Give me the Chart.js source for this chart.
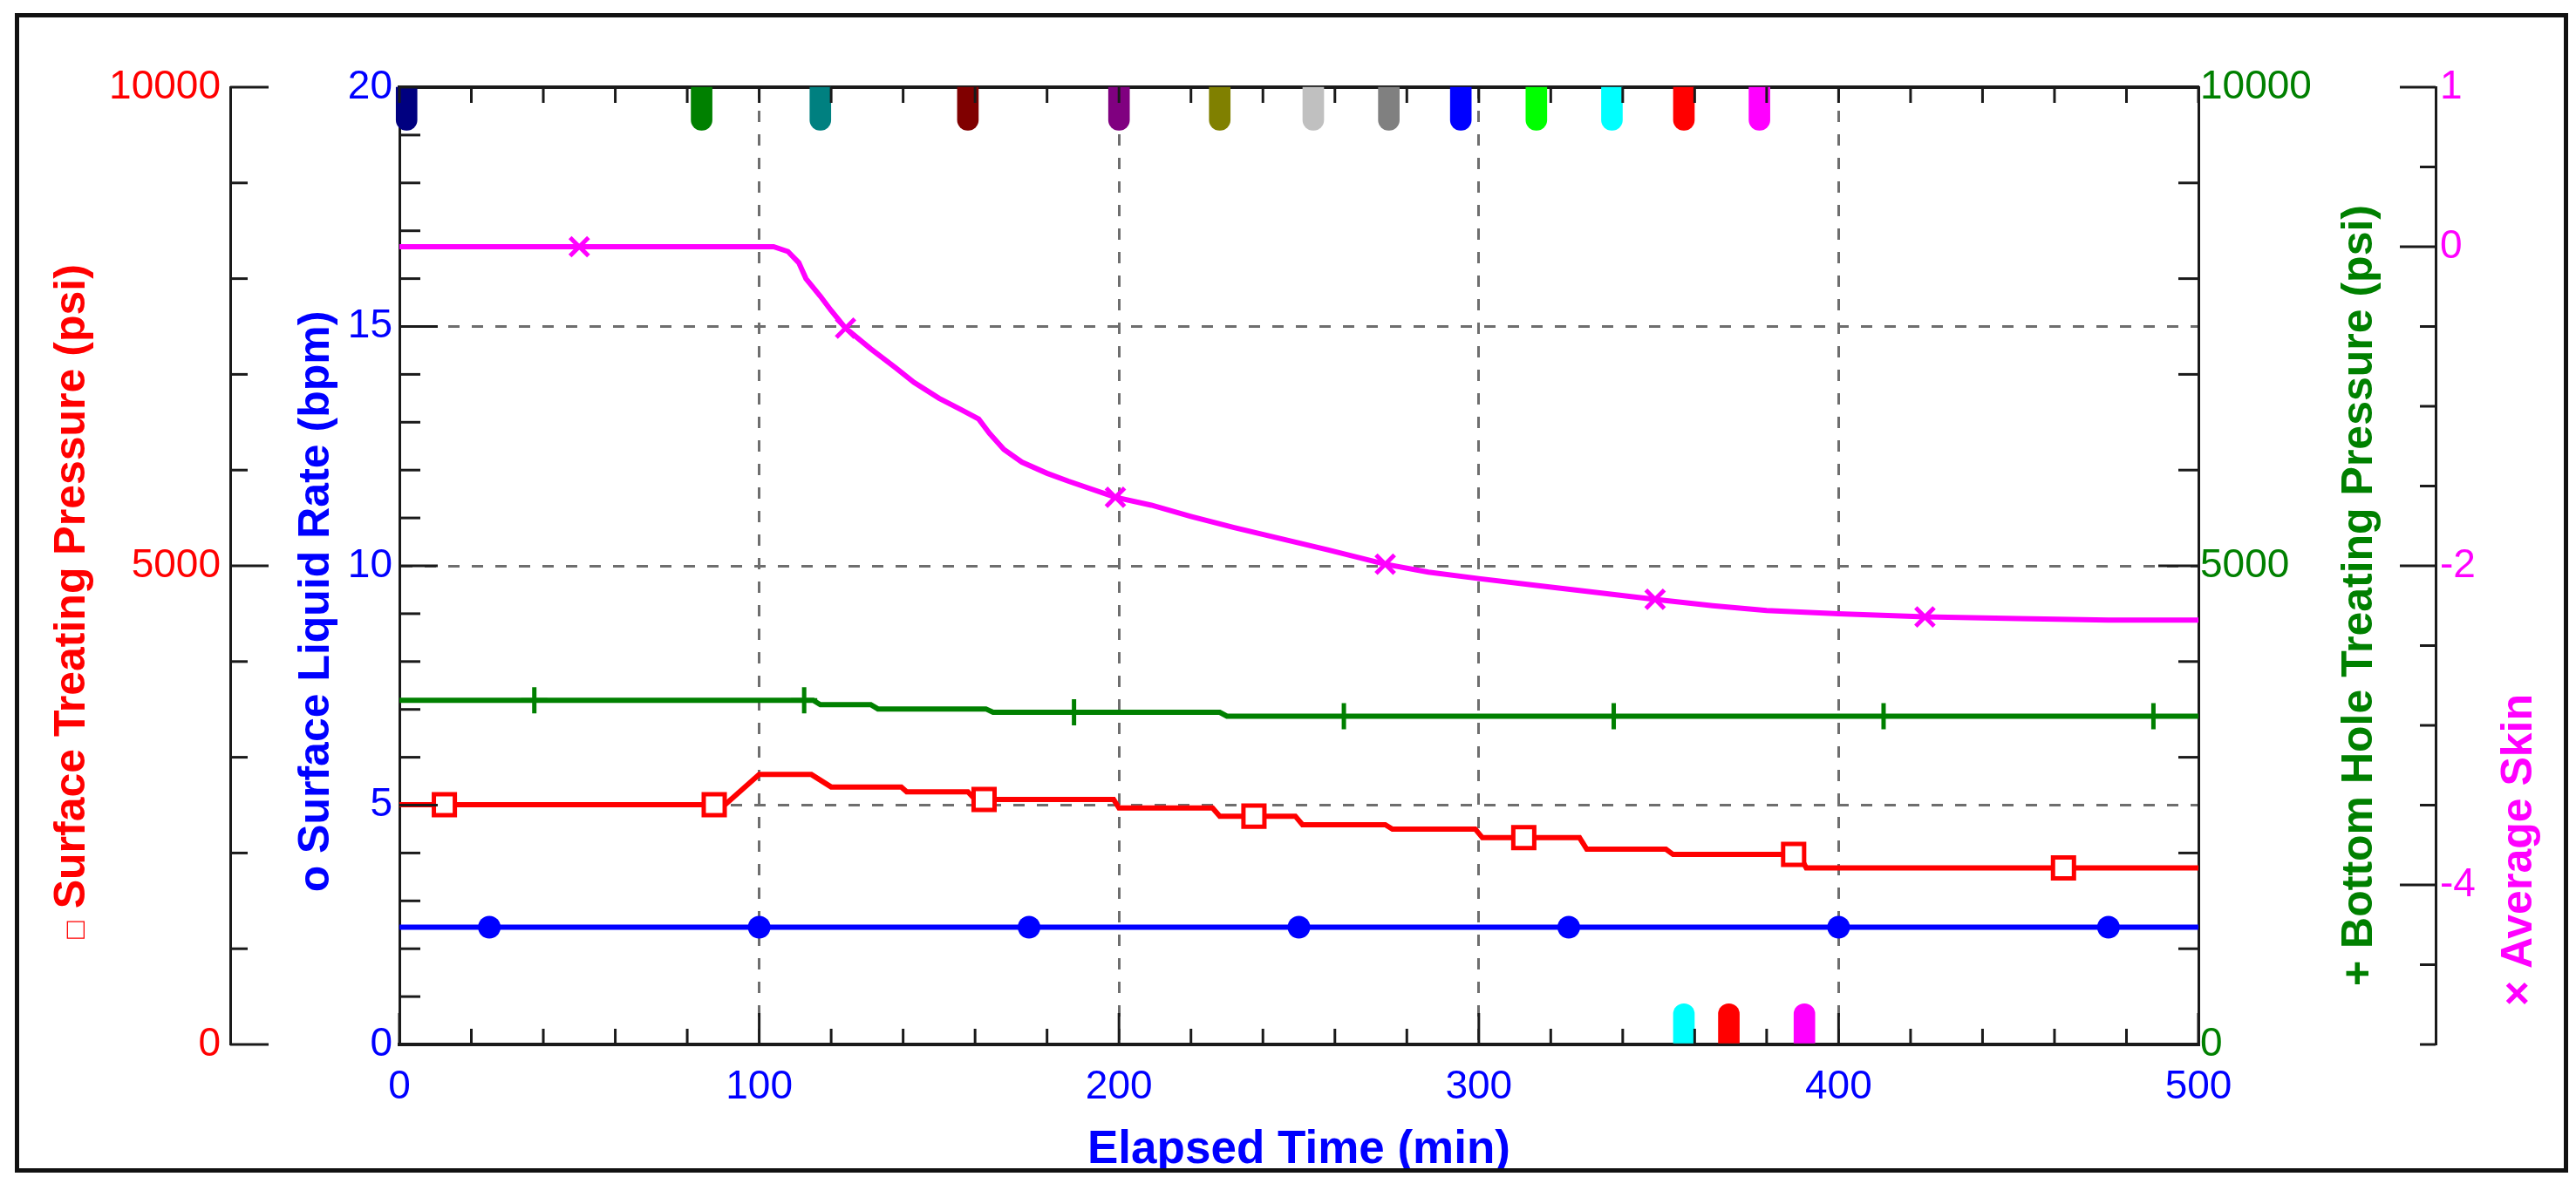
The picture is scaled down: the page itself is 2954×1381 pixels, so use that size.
<!DOCTYPE html>
<html><head><meta charset="utf-8">
<script src="https://cdn.jsdelivr.net/npm/chart.js@4.4.1/dist/chart.umd.min.js"></script>
<style>html,body{margin:0;padding:0;background:#fff;}canvas{display:block;}</style>
</head><body>
<canvas id="c" width="2954" height="1381" style="width:2954px;height:1381px"></canvas>
<script>
// ---------- DATA ----------
const xTickValues = [0, 100, 200, 300, 400, 500];
const pressureTickValues = [0, 5000, 10000];
const rateTickValues = [0, 5, 10, 15, 20];
const skinTickValues = [1, 0, -2, -4];

// Surface Treating Pressure (psi)
const stpTime = [0, 12.5, 87.5, 90.5, 100, 114.5, 120, 139.5, 141, 158, 160, 162.5, 198.5, 200, 226, 228, 237.5, 249, 251, 274, 276, 299, 301, 312.5, 328, 330, 352, 354, 387.5, 389, 391, 462.5, 500];
const stpPsi  = [2505, 2505, 2505, 2505, 2820, 2820, 2690, 2690, 2640, 2640, 2560, 2560, 2560, 2470, 2470, 2385, 2385, 2385, 2295, 2295, 2250, 2250, 2160, 2160, 2160, 2040, 2040, 1985, 1985, 1985, 1845, 1845, 1845];
const stpMarkerTimes = [12.5, 87.5, 162.5, 237.5, 312.5, 387.5, 462.5];

// Surface Liquid Rate (bpm)
const rateTime = [0, 25, 100, 175, 250, 325, 400, 475, 500];
const rateBpm  = [2.45, 2.45, 2.45, 2.45, 2.45, 2.45, 2.45, 2.45, 2.45];
const rateMarkerTimes = [25, 100, 175, 250, 325, 400, 475];

// Bottom Hole Treating Pressure (psi)
const bhtpTime = [0, 37.5, 112.5, 115, 117, 131, 133, 163, 165, 187.5, 228, 230, 262.5, 337.5, 412.5, 487.5, 500];
const bhtpPsi  = [3595, 3595, 3595, 3595, 3550, 3550, 3505, 3505, 3470, 3470, 3470, 3430, 3430, 3430, 3430, 3430, 3430];
const bhtpMarkerTimes = [37.5, 112.5, 187.5, 262.5, 337.5, 412.5, 487.5];

// Average Skin
const skinTime  = [0, 50, 104, 108, 111, 113, 117, 120, 124, 131, 138, 143, 150, 156, 161, 164, 168, 173, 180, 186, 199, 209, 220, 232, 245, 258, 274, 286, 300, 315, 330, 349, 365, 380, 400, 424, 450, 475, 500];
const skinValue = [0, 0, 0, -0.03, -0.1, -0.2, -0.31, -0.4, -0.51, -0.64, -0.76, -0.85, -0.95, -1.02, -1.08, -1.17, -1.27, -1.35, -1.42, -1.47, -1.57, -1.62, -1.69, -1.76, -1.83, -1.9, -1.99, -2.04, -2.08, -2.12, -2.16, -2.21, -2.25, -2.28, -2.3, -2.32, -2.33, -2.34, -2.34];
const skinMarkerTimes = [50, 124, 199, 274, 349, 424];

// Event flags (time in min, extent on rate axis)
const topEventTimes = [2, 84, 117, 158, 200, 228, 254, 275, 295, 316, 337, 357, 378];
const topEventRange = [19.1, 20];
const bottomEventTimes = [357, 369.5, 390.5];
const bottomEventRange = [0, 0.85];

// ---------- STYLE ----------
const topEventColors = ['#000080', '#008000', '#008080', '#800000', '#800080', '#808000', '#c0c0c0', '#808080', '#0000ff', '#00ff00', '#00ffff', '#ff0000', '#ff00ff'];
const bottomEventColors = ['#00ffff', '#ff0000', '#ff00ff'];
const RED = '#ff0000', BLUE = '#0000ff', GREEN = '#008000', MAG = '#ff00ff', AXIS = '#1a1a1a', GRID = '#6e6e6e';
const FONT = '"Liberation Sans", Arial, sans-serif';

Chart.defaults.font.family = FONT;

const pts = (ts, vs) => ts.map((t, i) => ({x: t, y: vs[i]}));
const mark = (times, r) => c => (c.raw && times.includes(c.raw.x)) ? r : 0;
const fixed = (list) => (scale) => { scale.ticks = list.map(v => ({value: v})); };
const noGrid = {display: true, drawTicks: false, drawOnChartArea: false, color: 'rgba(0,0,0,0)'};

const lineBase = {type: 'line', borderWidth: 6, tension: 0, pointHitRadius: 0, xAxisID: 'x'};

const datasets = [
  Object.assign({}, lineBase, {label: 'Surface Treating Pressure', data: pts(stpTime, stpPsi), yAxisID: 'yP',
    borderColor: RED, pointStyle: 'rect', pointRadius: mark(stpMarkerTimes, 17), pointBorderWidth: 5,
    pointBorderColor: RED, pointBackgroundColor: '#ffffff'}),
  Object.assign({}, lineBase, {label: 'Surface Liquid Rate', data: pts(rateTime, rateBpm), yAxisID: 'yR',
    borderColor: BLUE, pointStyle: 'circle', pointRadius: mark(rateMarkerTimes, 13), pointBorderWidth: 0,
    pointBackgroundColor: BLUE}),
  Object.assign({}, lineBase, {label: 'Bottom Hole Treating Pressure', data: pts(bhtpTime, bhtpPsi), yAxisID: 'yB',
    borderColor: GREEN, pointStyle: 'cross', pointRadius: mark(bhtpMarkerTimes, 15), pointBorderWidth: 5,
    pointBorderColor: GREEN}),
  Object.assign({}, lineBase, {label: 'Average Skin', data: pts(skinTime, skinValue), yAxisID: 'yS',
    borderColor: MAG, pointStyle: 'crossRot', pointRadius: mark(skinMarkerTimes, 15), pointBorderWidth: 5,
    pointBorderColor: MAG}),
  {type: 'bar', label: 'top events', data: topEventTimes.map(t => ({x: t, y: topEventRange.slice()})),
    xAxisID: 'x', yAxisID: 'yR', backgroundColor: topEventColors, barThickness: 24, grouped: false,
    borderSkipped: false, borderRadius: {topLeft: 0, topRight: 0, bottomLeft: 12, bottomRight: 12}, clip: false},
  {type: 'bar', label: 'bottom events', data: bottomEventTimes.map(t => ({x: t, y: bottomEventRange.slice()})),
    xAxisID: 'x', yAxisID: 'yR', backgroundColor: bottomEventColors, barThickness: 24, grouped: false,
    borderSkipped: false, borderRadius: {topLeft: 12, topRight: 12, bottomLeft: 0, bottomRight: 0}, clip: false}
];

const tickSpec = [
  {id: 'x', side: 'bottom', step: 20, majorEvery: 100, minor: 18, major: 36},
  {id: 'xTop', side: 'top', step: 20, majorEvery: 100, minor: 18, major: 18},
  {id: 'yP', side: 'left', step: 1000, majorEvery: 5000, minor: 20, major: 44},
  {id: 'yR', side: 'left', step: 1, majorEvery: 5, minor: 24, major: 44},
  {id: 'yB', side: 'right', step: 1000, majorEvery: 5000, minor: 23, major: 46},
  {id: 'yS', side: 'right', step: 0.5, majorEvery: 2, minor: 18, major: 41, majorList: [1, 0, -2, -4]}
];

const titles = [
  {prefix: '\u25A1', prefixSize: 34, text: 'Surface Treating Pressure (psi)', x: 97, y: 690, color: RED},
  {prefix: 'o', prefixSize: 50, text: 'Surface Liquid Rate (bpm)', x: 377, y: 690, color: BLUE},
  {prefix: '+', prefixSize: 50, text: 'Bottom Hole Treating Pressure (psi)', x: 2720, y: 683, color: GREEN},
  {prefix: '\u00D7', prefixSize: 50, text: 'Average Skin', x: 2903, y: 975, color: MAG}
];

const decor = {
  id: 'decor',
  afterDraw(chart) {
    const ctx = chart.ctx;
    ctx.save();
    ctx.strokeStyle = '#111';
    ctx.lineWidth = 5;
    ctx.strokeRect(19.5, 17.5, 2923, 1325);
    ctx.strokeStyle = AXIS;
    ctx.lineWidth = 3;
    ctx.lineCap = 'butt';
    const seg = (x1, y1, x2, y2) => { ctx.beginPath(); ctx.moveTo(x1, y1); ctx.lineTo(x2, y2); ctx.stroke(); };
    tickSpec.forEach(sp => {
      const s = chart.scales[sp.id];
      const n = Math.round((s.max - s.min) / sp.step);
      for (let i = 0; i <= n; i++) {
        const v = s.min + i * sp.step;
        const major = sp.majorList ? sp.majorList.some(m => Math.abs(m - v) < 1e-9)
                                   : Math.abs(v / sp.majorEvery - Math.round(v / sp.majorEvery)) < 1e-9;
        const len = major ? sp.major : sp.minor;
        const p = s.getPixelForValue(v);
        if (sp.side === 'bottom') seg(p, s.top, p, s.top - len);
        else if (sp.side === 'top') seg(p, s.bottom, p, s.bottom + len);
        else if (sp.side === 'left') seg(s.right, p, s.right + len, p);
        else seg(s.left, p, s.left - len, p);
      }
    });
    titles.forEach(t => {
      ctx.save();
      ctx.translate(t.x, t.y);
      ctx.rotate(-Math.PI / 2);
      ctx.fillStyle = t.color;
      ctx.textBaseline = 'alphabetic';
      ctx.textAlign = 'left';
      const mainFont = 'bold 50px ' + FONT;
      const preFont = 'bold ' + t.prefixSize + 'px ' + FONT;
      ctx.font = preFont;
      const wp = ctx.measureText(t.prefix).width;
      ctx.font = mainFont;
      const rest = ' ' + t.text;
      const wr = ctx.measureText(rest).width;
      const x0 = -(wp + wr) / 2;
      ctx.font = preFont;
      ctx.fillText(t.prefix, x0, 0);
      ctx.font = mainFont;
      ctx.fillText(rest, x0 + wp, 0);
      ctx.restore();
    });
    ctx.restore();
  }
};

const numLabel = v => String(v);

new Chart(document.getElementById('c'), {
  type: 'line',
  data: {datasets},
  plugins: [decor],
  options: {
    responsive: false, animation: false, events: [],
    layout: {padding: 0},
    plugins: {legend: {display: false}, tooltip: {enabled: false}},
    scales: {
      x: {type: 'linear', position: 'bottom', min: 0, max: 500, offset: false,
        afterBuildTicks: fixed(xTickValues),
        ticks: {color: BLUE, font: {size: 46}, padding: 22, maxRotation: 0, autoSkip: false, callback: numLabel},
        grid: {display: true, drawTicks: false, offset: false, lineWidth: 3,
          color: c => (c.tick && c.tick.value > 0 && c.tick.value < 500) ? GRID : 'rgba(0,0,0,0)'},
        border: {display: true, color: AXIS, width: 4, dash: [13, 14]},
        title: {display: true, text: 'Elapsed Time (min)', color: BLUE, font: {size: 53, weight: 'bold'}, padding: {top: 0, bottom: 30}},
        afterFit: s => { s.height = 183; }},
      xTop: {type: 'linear', position: 'top', min: 0, max: 500, offset: false,
        ticks: {display: false}, grid: noGrid,
        border: {display: true, color: AXIS, width: 4},
        afterFit: s => { s.height = 100; }},
      yP: {type: 'linear', position: 'left', weight: 2, min: 0, max: 10000,
        afterBuildTicks: fixed(pressureTickValues),
        ticks: {color: RED, font: {size: 46}, padding: 11, callback: numLabel},
        grid: noGrid, border: {display: true, color: AXIS, width: 3},
        afterFit: s => { s.width = 264; }},
      yR: {type: 'linear', position: 'left', weight: 1, min: 0, max: 20,
        afterBuildTicks: fixed(rateTickValues),
        ticks: {color: BLUE, font: {size: 46}, padding: 8, callback: numLabel},
        grid: {display: true, drawTicks: false, lineWidth: 3,
          color: c => (c.tick && c.tick.value > 0 && c.tick.value < 20) ? GRID : 'rgba(0,0,0,0)'},
        border: {display: true, color: AXIS, width: 3, dash: [13, 14]},
        afterFit: s => { s.width = 194; }},
      yB: {type: 'linear', position: 'right', weight: 1, min: 0, max: 10000,
        afterBuildTicks: fixed(pressureTickValues),
        ticks: {color: GREEN, font: {size: 46}, padding: 2, callback: numLabel},
        grid: noGrid, border: {display: true, color: AXIS, width: 3},
        afterFit: s => { s.width = 272; }},
      yS: {type: 'linear', position: 'right', weight: 2, min: -5, max: 1,
        afterBuildTicks: fixed(skinTickValues),
        ticks: {color: MAG, font: {size: 46}, padding: 5, callback: numLabel},
        grid: noGrid, border: {display: true, color: AXIS, width: 3},
        afterFit: s => { s.width = 161; }}
    }
  }
});
</script>
</body></html>
